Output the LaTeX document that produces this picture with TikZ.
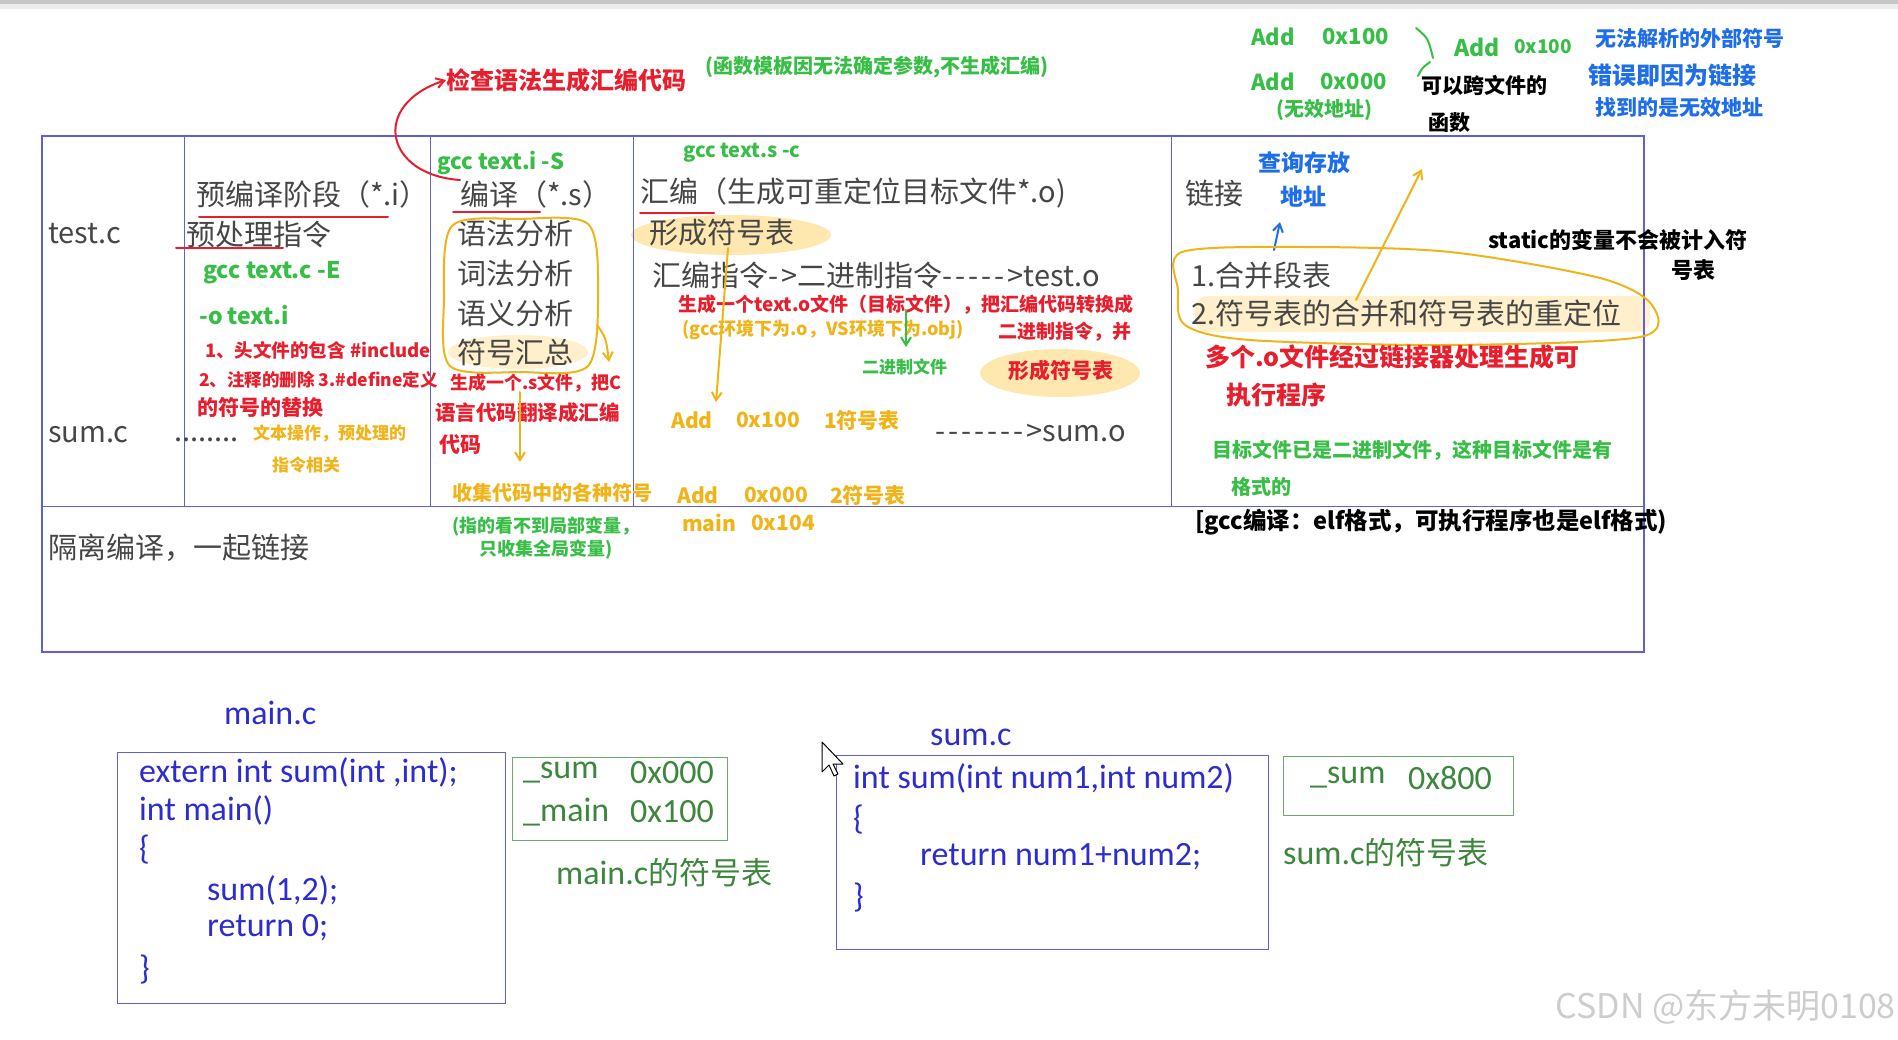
\documentclass[tikz,border=0pt]{standalone}
\usepackage{fontspec}
\setmainfont{Noto Sans CJK SC}
\newfontfamily\codef{Carlito}
\usetikzlibrary{arrows.meta}
\definecolor{tblue}{RGB}{95,95,220}
\definecolor{tgray}{RGB}{70,70,70}
\definecolor{hred}{RGB}{232,30,45}
\definecolor{hgreen}{RGB}{55,190,70}
\definecolor{horange}{RGB}{240,180,25}
\definecolor{hblue}{RGB}{30,110,235}
\definecolor{hyel}{RGB}{255,205,80}
\definecolor{cblue}{RGB}{45,45,205}
\definecolor{sgreen}{RGB}{60,135,60}
\definecolor{sgbox}{RGB}{110,170,110}
\definecolor{wm}{RGB}{205,205,205}
\newcommand\fsz[1]{\fontsize{#1}{#1}\selectfont}
\newcommand\hy{-\kern0pt}
\newcommand\mydsh{-\kern3pt}
\tikzset{
  tbl/.style={anchor=west, inner sep=0pt, text=tgray, font=\fsz{29}},
  hw/.style={anchor=west, inner sep=0pt, execute at begin node=\bfseries},
  hr/.style={hw, text=hred},
  hg/.style={hw, text=hgreen},
  ho/.style={hw, text=horange},
  hb/.style={hw, text=hblue},
  hk/.style={hw, text=black},
  code/.style={anchor=west, inner sep=0pt, text=cblue, font=\codef\fsz{34}},
  sym/.style={anchor=west, inner sep=0pt, text=sgreen, font=\codef\fsz{34}},
  symcjk/.style={anchor=west, inner sep=0pt, text=sgreen, font=\fsz{31}},
  tline/.style={draw=tblue, line width=1pt},
  pen/.style={line width=2pt, line cap=round, line join=round},
  hl/.style={fill=hyel, opacity=0.45},
  tip/.style={-{Straight Barb[length=8pt,width=10pt]}},
  cbox/.style={draw=tblue, line width=1.3pt, inner sep=0pt, anchor=north west},
  sbox/.style={draw=sgbox, line width=1.3pt, inner sep=0pt, anchor=north west}
}
\begin{document}
\begin{tikzpicture}[x=1pt, y=-1pt]
\useasboundingbox (0,0) rectangle (1898,1040);
\fill[white] (0,0) rectangle (1898,1040);
\fill[gray!45] (0,0) rectangle (1898,4);
\fill[gray!15] (0,4) rectangle (1898,9);

% highlights
\fill[hl] (731,235) ellipse (100 and 20);
\fill[hl, opacity=0.3] (518,352) ellipse (70 and 17);
\fill[hl, opacity=0.3, rounded corners=12pt] (1195,296) rectangle (1650,332);
\fill[hl] (1060,373) ellipse (80 and 24);

% table
\draw[tline, line width=1.5pt] (42,136) rectangle (1644,652);
\draw[tline] (42,506) -- (1644,506);
\foreach \cx in {184,430,633,1171} \draw[tline] (\cx,136) -- (\cx,506);

\node[tbl] (testc) at (48,234) {test.c};
\node[tbl] (pre) at (196,194) {预编译阶段（*.i）};
\node[tbl] (prei) at (186,234) {预处理指令};
\node[tbl] (comp) at (460,194) {编译（*.s）};
\node[tbl] (yf) at (457,234) {语法分析};
\node[tbl] (cf) at (457,274) {词法分析};
\node[tbl] (yy) at (457,313) {语义分析};
\node[tbl] (fh) at (457,352) {符号汇总};
\node[tbl] (asm) at (640,193) {汇编（生成可重定位目标文件*.o)};
\node[tbl] (xc) at (649,233) {形成符号表};
\node[tbl] (asm2) at (652,275) {汇编指令\mydsh>二进制指令\mydsh\mydsh\mydsh\mydsh\mydsh>test.o};
\node[tbl] (sumo) at (935,433) {\mydsh\mydsh\mydsh\mydsh\mydsh\mydsh\mydsh>sum.o};
\node[tbl] (link) at (1185,193) {链接};
\node[tbl] (l1) at (1191,275) {1.合并段表};
\node[tbl] (l2) at (1191,313) {2.符号表的合并和符号表的重定位};
\node[tbl] (sumc) at (48,435) {sum.c};
\node[tbl] (dots) at (174,440) {........};
\node[tbl] (iso) at (48,548) {隔离编译，一起链接};

% red underlines
\draw[pen, hred] (199,217) -- (388,217);
\draw[pen, hred] (176,248) -- (283,248);
\draw[pen, hred] (453,212) -- (540,212);
\draw[pen, hred] (640,213) -- (714,213);

% annotations: top
\node[hr, font=\fsz{24}] (chk) at (446,80) {检查语法生成汇编代码};
\node[hg, font=\fsz{20}] (tmpl) at (705,67) {(函数模板因无法确定参数,不生成汇编)};
\node[hg, font=\fsz{22}] (gccS) at (437,163) {gcc text.i \hy S};
\node[hg, font=\fsz{20}] (gccc) at (683,153) {gcc text.s \hy c};
\draw[pen, hred, tip] (comp.north west) .. controls (385,175) and (370,105) .. (chk.west);

% pre-compile column
\node[hg, font=\fsz{23}] (gccE) at (203,273) {gcc text.c \hy E};
\node[hg, font=\fsz{23}] (oti) at (199,315) {\hy o text.i};
\node[hr, font=\fsz{18.5}] (p1) at (205,350) {1、头文件的包含 \#include};
\node[hr, font=\fsz{17.5}] (p2) at (199,380) {2、注释的删除 3.\#define定义};
\node[hr, font=\fsz{21}] (p3) at (197,407) {的符号的替换};
\node[ho, font=\fsz{17}] (p4) at (253,433) {文本操作，预处理的};
\node[ho, font=\fsz{17}] (p5) at (272,465) {指令相关};

% compile column
\draw[pen, horange] plot[smooth cycle] coordinates {(452,226) (520,219) (588,224) (598,290) (588,366) (520,372) (450,366) (444,300)};
\draw[pen, horange, tip] (597,325) .. controls (606,338) .. (609,362);
\node[hr, font=\fsz{18}] (c1) at (450,383) {生成一个.s文件，把C};
\node[hr, font=\fsz{20.5}] (c2) at (435,413) {语言代码翻译成汇编};
\node[hr, font=\fsz{21}] (c3) at (439,445) {代码};
\draw[pen, horange, tip] (520,392) -- (520,462);
\node[ho, font=\fsz{20}] (c4) at (452,493) {收集代码中的各种符号};
\node[hg, font=\fsz{18}] (c5) at (452,527) {(指的看不到局部变量，};
\node[hg, font=\fsz{18}] (c6) at (479,550) {只收集全局变量)};

% assemble column
\node[hr, font=\fsz{19}] (a1) at (678,305) {生成一个text.o文件（目标文件），把汇编代码转换成};
\node[ho, font=\fsz{18}] (a2) at (682,330) {(gcc环境下为.o，VS环境下为.obj)};
\node[hr, font=\fsz{19}] (a3) at (998,332) {二进制指令，并};
\node[hg, font=\fsz{17}] (a4) at (862,367) {二进制文件};
\draw[pen, hgreen, tip] (906,310) -- (906,347);
\node[hr, font=\fsz{21}] (a5) at (1008,370) {形成符号表};
\draw[pen, horange, tip] (728,248) -- (716,402);
\node[ho, font=\fsz{21}] (a6) at (671,420) {Add};
\node[ho, font=\fsz{21}] (a7) at (736,420) {0x100};
\node[ho, font=\fsz{21}] (a8) at (824,420) {1符号表};
\node[ho, font=\fsz{21}] (a9) at (677,495) {Add};
\node[ho, font=\fsz{21}] (a10) at (744,495) {0x000};
\node[ho, font=\fsz{21}] (a11) at (830,495) {2符号表};
\node[ho, font=\fsz{21}] (a12) at (682,523) {main};
\node[ho, font=\fsz{21}] (a13) at (751,523) {0x104};

% link column
\node[hb, font=\fsz{23}] (q1) at (1258,163) {查询存放};
\node[hb, font=\fsz{23}] (q2) at (1280,197) {地址};
\draw[pen, hblue, tip] (1274,250) -- (1280,222);
\draw[pen, horange] plot[smooth cycle] coordinates {(1182,252) (1300,247) (1450,252) (1600,278) (1652,305) (1640,337) (1450,345) (1250,340) (1185,325) (1178,290)};
\draw[pen, horange, tip] (1356,300) -- (1422,169);
\node[hk, font=\fsz{22}] (st1) at (1488,240) {static的变量不会被计入符};
\node[hk, font=\fsz{22}] (st2) at (1671,270) {号表};
\node[hr, font=\fsz{25}] (k1) at (1205,357) {多个.o文件经过链接器处理生成可};
\node[hr, font=\fsz{25}] (k2) at (1226,395) {执行程序};
\node[hg, font=\fsz{20}] (k3) at (1212,450) {目标文件已是二进制文件，这种目标文件是有};
\node[hg, font=\fsz{20}] (k4) at (1231,487) {格式的};
\node[hk, font=\fsz{23.5}] (k5) at (1195,522) {[gcc编译：elf格式，可执行程序也是elf格式)};

% top right
\node[hg, font=\fsz{22}] (r1a) at (1251,37) {Add};
\node[hg, font=\fsz{22}] (r1b) at (1322,37) {0x100};
\node[hg, font=\fsz{22}] (r2a) at (1251,82) {Add};
\node[hg, font=\fsz{22}] (r2b) at (1320,82) {0x000};
\node[hg, font=\fsz{20}] (r3) at (1276,110) {(无效地址)};
\draw[pen, hgreen] (1416,28) .. controls (1428,38) .. (1433,58);
\draw[pen, hgreen] (1430,62) .. controls (1422,68) .. (1418,76);
\node[hg, font=\fsz{23}] (r4a) at (1454,47) {Add};
\node[hg, font=\fsz{19}] (r4b) at (1514,47) {0x100};
\node[hk, font=\fsz{21}] (r5) at (1421,85) {可以跨文件的};
\node[hk, font=\fsz{21}] (r6) at (1428,123) {函数};
\node[hb, font=\fsz{21}] (e1) at (1595,38) {无法解析的外部符号};
\node[hb, font=\fsz{24}] (e2) at (1588,75) {错误即因为链接};
\node[hb, font=\fsz{21}] (e3) at (1595,108) {找到的是无效地址};

% bottom: main.c
\node[code] (mainc) at (224,713) {main.c};
\node[cbox, minimum width=388pt, minimum height=251pt] (mbox) at (117,752) {};
\node[code] (m1) at (139,772) {extern int sum(int ,int);};
\node[code] (m2) at (139,810) {int main()};
\node[code] (m3) at (139,850) {\{};
\node[code] (m4) at (207,890) {sum(1,2);};
\node[code] (m5) at (207,928) {return 0;};
\node[code] (m6) at (139,970) {\}};
\node[sbox, minimum width=215pt, minimum height=83pt] (msym) at (512,757) {};
\node[sym] (ms1) at (523,773) {\_sum};
\node[sym] (ms2) at (630,773) {0x000};
\node[sym] (ms3) at (523,812) {\_main};
\node[sym] (ms4) at (630,812) {0x100};
\node[symcjk] (mtab) at (556,873) {{\codef\fsz{34}main.c}的符号表};

% bottom: sum.c
\node[code] (sumlbl) at (930,737) {sum.c};
\node[cbox, minimum width=432pt, minimum height=194pt] (sbx) at (836,755) {};
\node[code] (s1) at (853,778) {int sum(int num1,int num2)};
\node[code] (s2) at (853,820) {\{};
\node[code] (s3) at (920,857) {return num1+num2;};
\node[code] (s4) at (853,898) {\}};
\node[sbox, minimum width=230pt, minimum height=59pt] (ssym) at (1283,756) {};
\node[sym] (ss1) at (1310,778) {\_sum};
\node[sym] (ss2) at (1408,778) {0x800};
\node[symcjk] (stab) at (1283,853) {{\codef\fsz{34}sum.c}的符号表};

% cursor
\draw[fill=white, line width=1pt, line join=round] (822,742) -- (822,772) -- (829,765) -- (834,776) -- (838,774) -- (833,764) -- (843,764) -- cycle;

% watermark
\node[anchor=east, inner sep=0pt, text=wm, font=\fsz{34}] (wmk) at (1896,1007) {CSDN @东方未明0108};
\end{tikzpicture}
\end{document}
